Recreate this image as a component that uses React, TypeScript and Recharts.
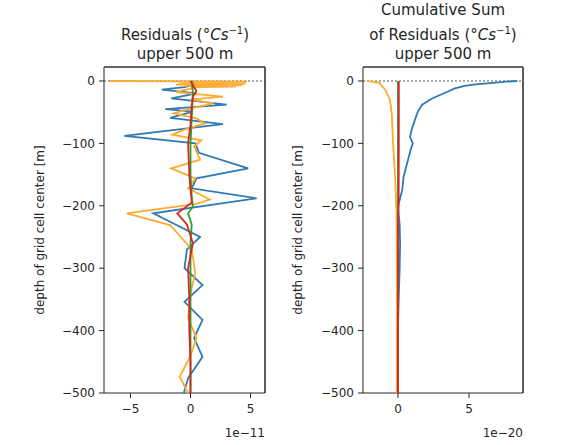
import { ScatterChart, Scatter, XAxis, YAxis, ReferenceLine } from 'recharts';

// depth ticks shared by both panels [m]
const depthTicks = [0, -100, -200, -300, -400, -500];
const depthDomain: [number, number] = [-500, 22.4];
const residTicks = [-5, 0, 5];
const cumTicks = [0, 5];

// residuals, units of 1e-11 °C/s
const resBlueDepth = [0, -5, -10, -14, -20, -28, -38, -45, -49, -59, -69, -88, -100, -115, -140, -156, -172, -188, -212, -250, -270, -300, -327, -354, -383, -412, -442, -476, -503];
const resBlueVal = [0, 0.5, -0.5, -2.4, 0.5, -1.6, 3.0, -2.1, 0.2, -1.7, 2.7, -5.5, 0.4, 0.7, 4.8, 0.5, 0.1, 5.5, -3.1, 0.8, -0.3, -0.5, 1.0, -0.5, 1.0, 0.3, 1.0, -0.2, -0.6];

const resOrangeDepth = [0, -1, -2, -3, -4, -5, -6, -7, -8, -9, -10, -18, -25, -30, -36, -45, -52, -60, -68, -78, -86, -95, -105, -126, -140, -156, -172, -190, -197, -212, -231, -248, -270, -308, -340, -380, -412, -440, -474, -500];
const resOrangeVal = [-6.7, 4.7, -1.0, 4.6, -0.8, 4.5, -1.2, 4.3, -0.5, 3.8, 0.5, -1.2, 2.7, 0.0, 1.9, -0.2, -1.4, 0.5, 1.2, -0.5, -1.5, 0.9, 0.3, 0.8, -1.6, 0.4, -0.2, 1.6, 0.5, -5.3, -1.7, -0.9, 0.1, 0.4, 0.0, -0.2, 0.5, 0.0, -0.9, -0.2];

const resGreenDepth = [0, -20, -60, -100, -150, -185, -201, -212, -230, -260, -300, -400, -500];
const resGreenVal = [0.1, 0.2, 0.1, 0.0, 0.0, 0.1, 0.2, -0.2, 0.1, 0.0, 0.0, 0.0, 0.0];

const resRedDepth = [0, -10, -16, -25, -40, -70, -100, -150, -195, -212, -230, -260, -300, -350, -400, -450, -500];
const resRedVal = [0.0, 0.3, 0.5, 0.2, 0.1, 0.0, -0.2, -0.1, 0.1, -1.1, -0.3, 0.2, -0.2, -0.1, -0.1, 0.0, 0.0];

// cumulative sum, units of 1e-20
const cumBlueDepth = [0, -1, -3, -5, -8, -12, -16, -20, -28, -38, -49, -62, -78, -90, -100, -110, -127, -153, -175, -201, -230, -260, -300, -350, -400, -450, -500];
const cumBlueVal = [8.4, 7.6, 6.7, 5.6, 4.7, 4.0, 3.6, 3.2, 2.4, 1.7, 1.4, 1.2, 0.96, 0.85, 1.05, 0.9, 0.7, 0.4, 0.3, 0.0, 0.12, 0.15, 0.12, 0.05, 0.0, 0.0, 0.0];

const cumOrangeDepth = [0, -3, -14, -30, -52, -105, -153, -212, -300, -400, -500];
const cumOrangeVal = [-2.2, -1.3, -0.9, -0.56, -0.44, -0.33, -0.2, -0.1, -0.08, -0.08, -0.08];

const cumGreenDepth = [0, -100, -200, -300, -400, -500];
const cumGreenVal = [0.0, 0.0, 0.0, 0.0, 0.0, 0.0];

const cumRedDepth = [0, -100, -200, -220, -300, -500];
const cumRedVal = [0.06, 0.06, 0.05, 0.0, 0.0, 0.0];

const BLUE = '#2f7ab5';
const ORANGE = '#fbab30';
const GREEN = '#2ca02c';
const RED = '#d62728';
const INK = '#262626';
const FONT = '"DejaVu Sans", sans-serif';

// plot frames (layout only)
const PLOT_TOP = 67;
const PLOT_BOTTOM = 393;
const LEFT_PLOT = [104, 265];
const RIGHT_PLOT = [363, 523];

const pts = (d: number[], v: number[]) => d.map((depth, i) => ({ d: depth, v: v[i] }));

const noDot = () => <g />;

const fmt = (t: number) => String(t).replace('-', '\u2212');

type Series = { color: string; data: { d: number; v: number }[] };

function Panel({ width, margin, xDomain, xTicks, series }: {
  width: number;
  margin: { top: number; right: number; bottom: number; left: number };
  xDomain: [number, number];
  xTicks: number[];
  series: Series[];
}) {
  const tickStyle = { fontSize: 12, fill: INK, fontFamily: FONT };
  return (
    <ScatterChart width={width} height={445} margin={margin}>
      <XAxis
        type="number"
        dataKey="v"
        domain={xDomain}
        ticks={xTicks}
        allowDataOverflow
        tickFormatter={fmt}
        tick={tickStyle}
        tickSize={5}
        tickMargin={6}
        height={30}
        stroke={INK}
      />
      <YAxis
        type="number"
        dataKey="d"
        domain={depthDomain}
        ticks={depthTicks}
        allowDataOverflow
        tickFormatter={fmt}
        tick={tickStyle}
        tickSize={5}
        tickMargin={4}
        width={60}
        stroke={INK}
      />
      {series.map((s, i) => (
        <Scatter
          key={i}
          data={s.data}
          fill={s.color}
          stroke={s.color}
          line={{ stroke: s.color, strokeWidth: 1.8 }}
          lineJointType="linear"
          shape={noDot}
          isAnimationActive={false}
        />
      ))}
      <ReferenceLine y={0} stroke="#444" strokeWidth={0.9} strokeDasharray="2 2" />
    </ScatterChart>
  );
}

export default function App() {
  const residSeries: Series[] = [
    { color: BLUE, data: pts(resBlueDepth, resBlueVal) },
    { color: ORANGE, data: pts(resOrangeDepth, resOrangeVal) },
    { color: GREEN, data: pts(resGreenDepth, resGreenVal) },
    { color: RED, data: pts(resRedDepth, resRedVal) },
  ];
  const cumSeries: Series[] = [
    { color: BLUE, data: pts(cumBlueDepth, cumBlueVal) },
    { color: ORANGE, data: pts(cumOrangeDepth, cumOrangeVal) },
    { color: GREEN, data: pts(cumGreenDepth, cumGreenVal) },
    { color: RED, data: pts(cumRedDepth, cumRedVal) },
  ];

  return (
    <div style={{ position: 'absolute', left: 0, top: 0, width: 573, height: 445, background: '#fff', fontFamily: FONT }}>
      <div style={{ position: 'absolute', left: 0, top: 0 }}>
        <Panel width={290} margin={{ top: 67, right: 25, bottom: 22, left: 44 }} xDomain={[-7.2, 6.2]} xTicks={residTicks} series={residSeries} />
      </div>
      <div style={{ position: 'absolute', left: 290, top: 0 }}>
        <Panel width={283} margin={{ top: 67, right: 50, bottom: 22, left: 13 }} xDomain={[-2.46, 8.8]} xTicks={cumTicks} series={cumSeries} />
      </div>
      <svg width={573} height={445} style={{ position: 'absolute', left: 0, top: 0, pointerEvents: 'none' }} fontFamily={FONT}>
        {[LEFT_PLOT, RIGHT_PLOT].map(([l, r], i) => (
          <g key={i} stroke="#333" strokeWidth={1.6}>
            <line x1={l} y1={PLOT_TOP} x2={r} y2={PLOT_TOP} />
            <line x1={r} y1={PLOT_TOP} x2={r} y2={PLOT_BOTTOM} />
          </g>
        ))}
        <g fill={INK}>
          <text x={185} y={40} textAnchor="middle" fontSize={15}>
            Residuals (°<tspan fontStyle="italic">Cs</tspan>
            <tspan dy={-6} fontSize={10}>{'\u22121'}</tspan>
            <tspan dy={6}>)</tspan>
          </text>
          <text x={185} y={59} textAnchor="middle" fontSize={15}>upper 500 m</text>
          <text x={443} y={15} textAnchor="middle" fontSize={15}>Cumulative Sum</text>
          <text x={443} y={40} textAnchor="middle" fontSize={15}>
            of Residuals (°<tspan fontStyle="italic">Cs</tspan>
            <tspan dy={-6} fontSize={10}>{'\u22121'}</tspan>
            <tspan dy={6}>)</tspan>
          </text>
          <text x={443} y={59} textAnchor="middle" fontSize={15}>upper 500 m</text>
          <text x={40} y={230} textAnchor="middle" dominantBaseline="central" fontSize={12} transform="rotate(-90 40 230)">
            depth of grid cell center [m]
          </text>
          <text x={298} y={230} textAnchor="middle" dominantBaseline="central" fontSize={12} transform="rotate(-90 298 230)">
            depth of grid cell center [m]
          </text>
          <text x={265} y={437} textAnchor="end" fontSize={12}>1e{'\u2212'}11</text>
          <text x={523} y={437} textAnchor="end" fontSize={12}>1e{'\u2212'}20</text>
        </g>
      </svg>
    </div>
  );
}
